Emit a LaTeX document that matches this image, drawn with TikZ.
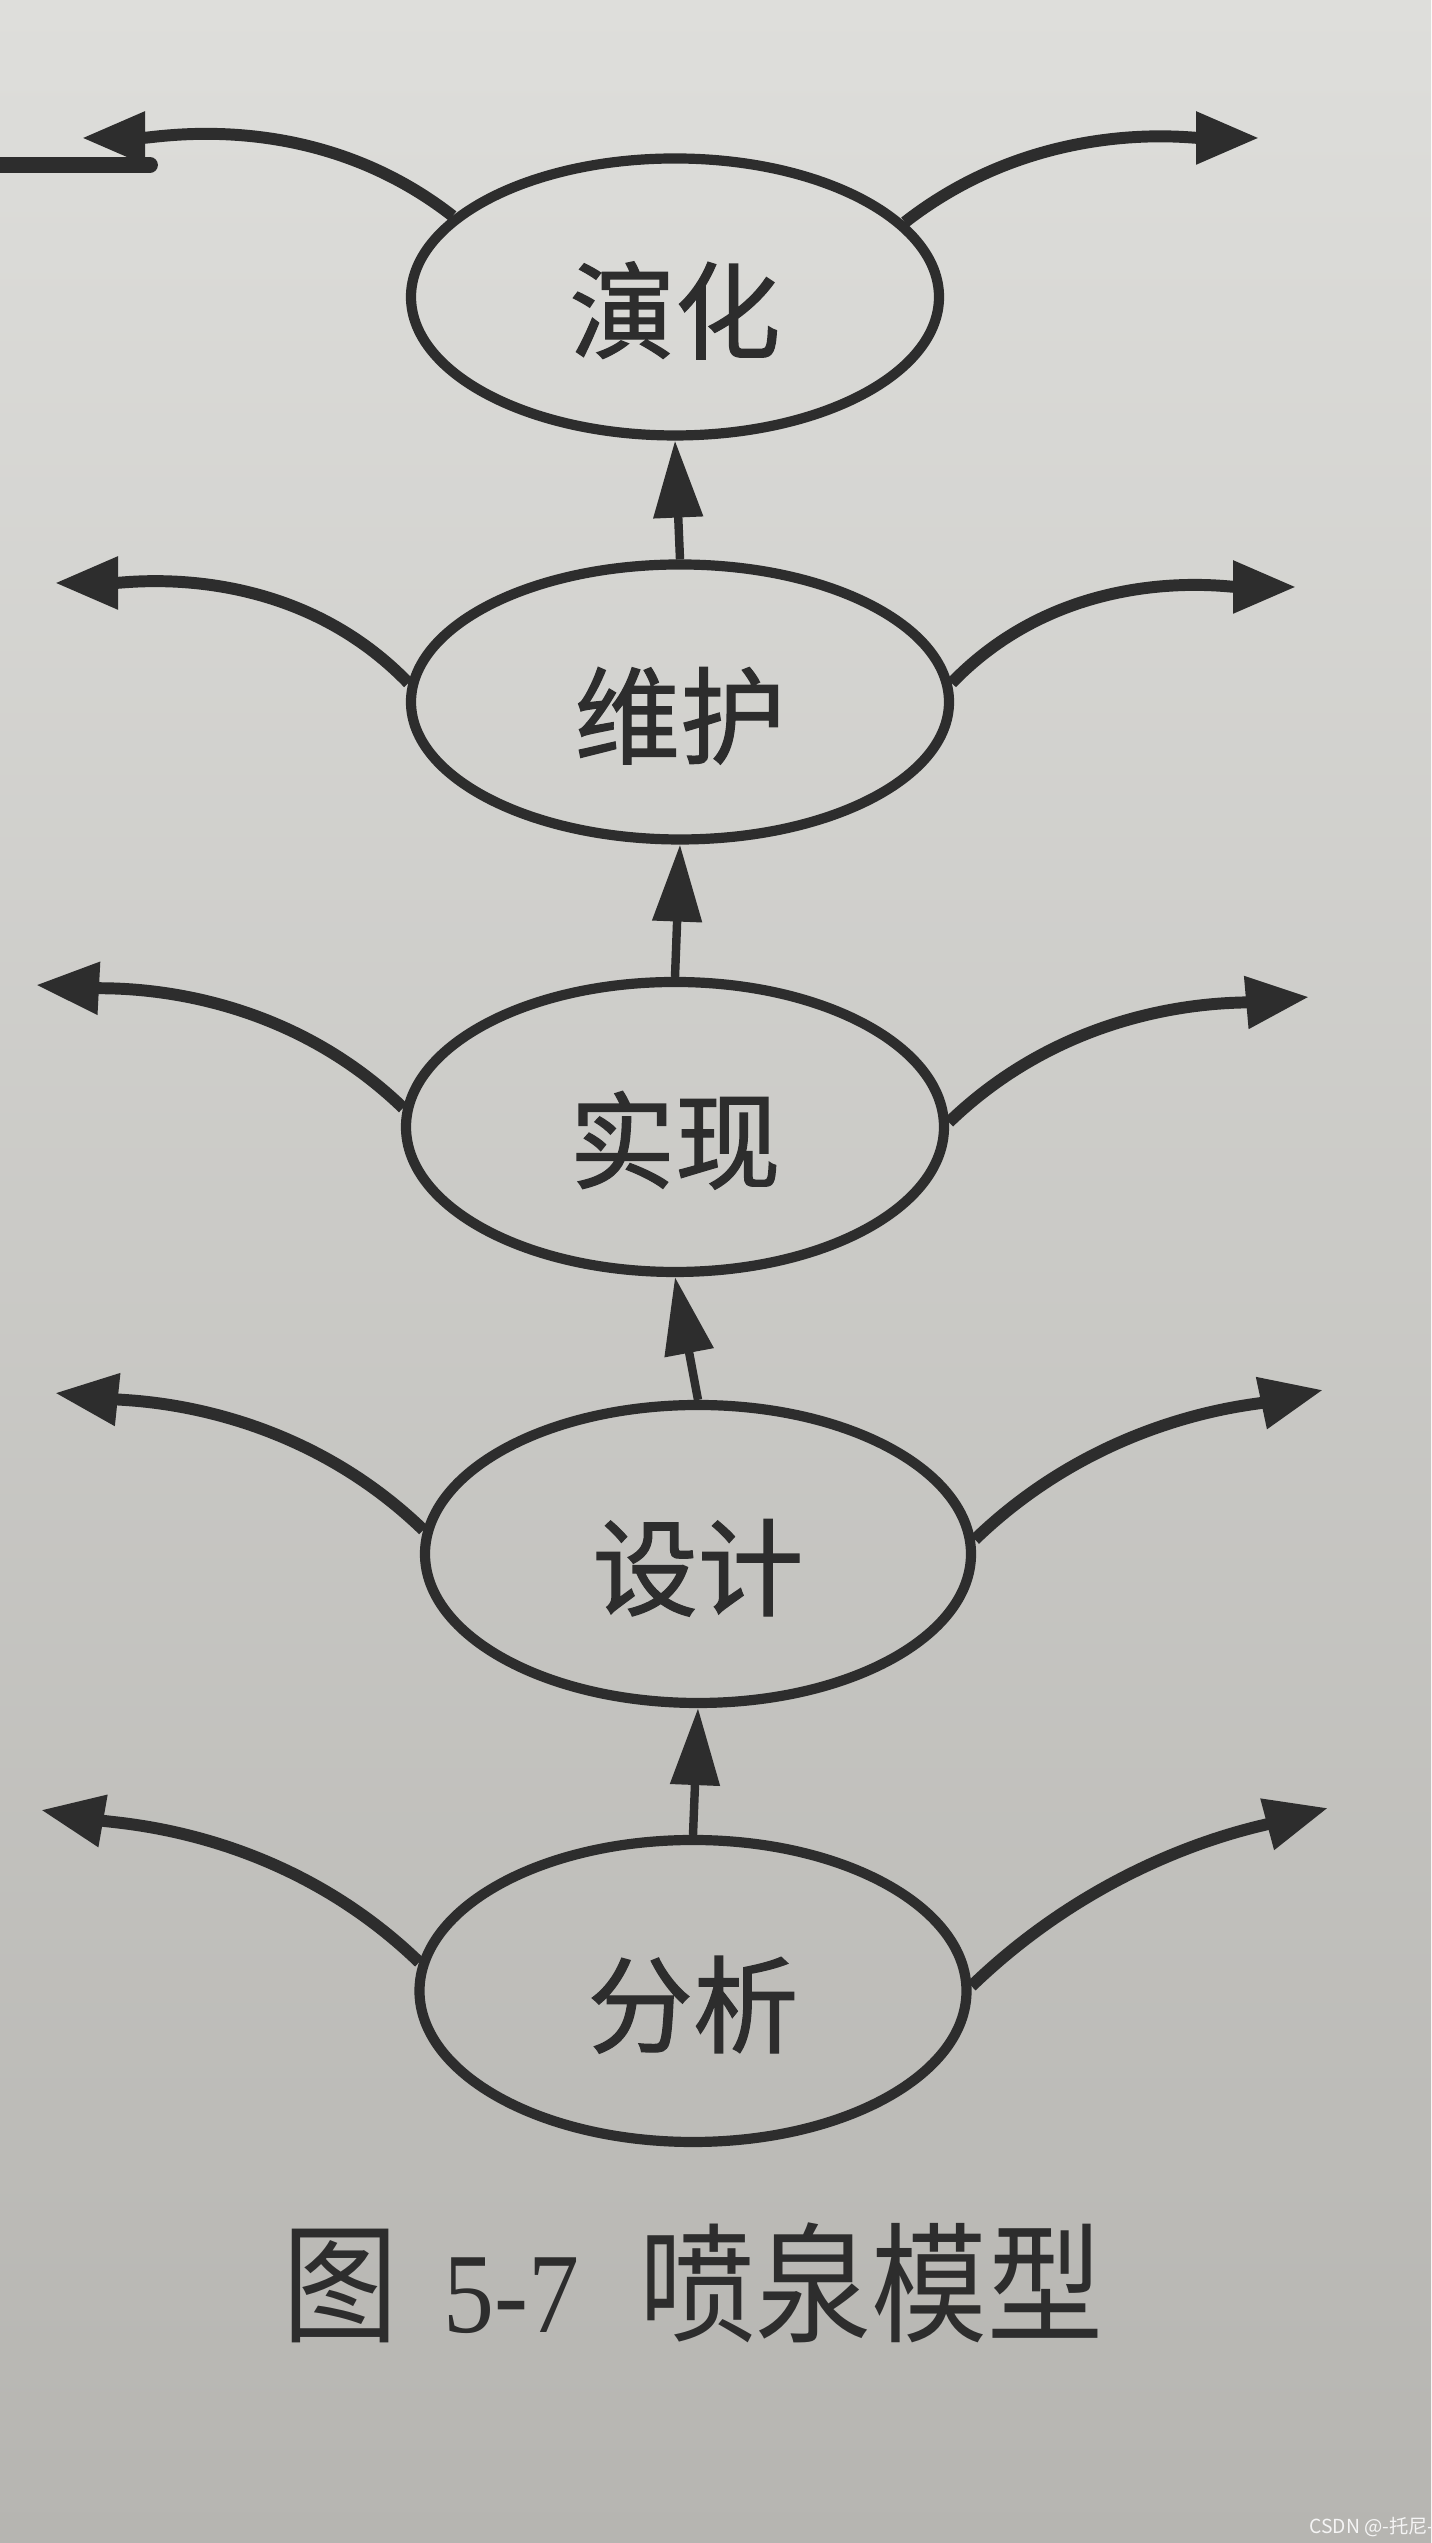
\documentclass[tikz,border=0pt]{standalone}
\usepackage{fontspec}
\setmainfont{Liberation Serif}
\newfontfamily\cjk{Noto Sans CJK SC}[FakeBold=1.2]
\newfontfamily\cjkcap{Noto Sans CJK SC}
\usetikzlibrary{arrows.meta,shapes.geometric}
\definecolor{papercol}{RGB}{222,222,219}
\definecolor{papershade}{RGB}{182,181,177}
\definecolor{inkcol}{RGB}{45,45,45}

\begin{document}
\begin{tikzpicture}[
    phase/.style={ellipse, draw=inkcol, line width=2.9pt, minimum width=5.38cm, minimum height=2.9cm, inner sep=0pt, text height=33pt, text=inkcol, font=\cjk\fontsize{30}{36}\selectfont},
    side/.style={draw=inkcol, line width=3.4pt, out looseness=1.2, in looseness=0.5, -{Triangle[length=6.3mm,width=5mm]}},
    flow/.style={draw=inkcol, line width=2.4pt, -{Triangle[length=7.7mm,width=4.8mm]}},
]
\useasboundingbox (0,0) rectangle (14.31,25.43);
\shade[top color=papercol, bottom color=papershade] (0,0) rectangle (14.31,25.43);

% the five phases
\node[phase, minimum width=5.28cm, minimum height=2.77cm] (evo) at (6.75,22.46) {演化};
\node[phase, minimum height=2.75cm] (mnt) at (6.80,18.41) {维护};
\node[phase] (imp) at (6.75,14.16) {实现};
\node[phase, minimum width=5.46cm, minimum height=2.98cm] (dsg) at (6.98,9.89) {设计};
\node[phase, minimum width=5.47cm, minimum height=3.02cm] (ana) at (6.93,5.52) {分析};

% free ends of the side arrows
\coordinate (evo-l) at (0.82,24.05);
\coordinate (evo-r) at (12.59,24.05);
\coordinate (mnt-l) at (0.55,19.60);
\coordinate (mnt-r) at (12.96,19.56);
\coordinate (imp-l) at (0.36,15.58);
\coordinate (imp-r) at (13.09,15.46);
\coordinate (dsg-l) at (0.55,11.50);
\coordinate (dsg-r) at (13.23,11.53);
\coordinate (ana-l) at (0.41,7.33);
\coordinate (ana-r) at (13.28,7.35);

\foreach \n/\a/\b/\lo/\ro/\li/\ri in {evo/160/18/142/38/0/180, mnt/176/4/134/46/0/180,
        imp/176/1/136/44/-3/185, dsg/175/3/136/44/-6/192, ana/174/1/136/44/-10/195} {
    \draw[side] (\n.\a) to[out=\lo, in=\li] (\n-l);
    \draw[side] (\n.\b) to[out=\ro, in=\ri] (\n-r);
}

\foreach \a/\b in {ana/dsg, dsg/imp, imp/mnt, mnt/evo}
    \draw[flow] (\a.north) -- (\b.south);

\draw[inkcol, line width=4.5pt, line cap=round] (0,23.78) -- (1.50,23.78);

\node[text=inkcol, font=\cjkcap\fontsize{33}{40}\selectfont, yscale=1.12] (cap) at (6.93,2.60)
    {图\hspace{0.45cm}{\rmfamily\fontsize{29}{36}\selectfont 5-7}\hspace{0.6cm}喷泉模型};
\node[text=white!92!gray, font=\cjkcap\fontsize{5.5}{7}\selectfont] (mark) at (13.72,0.16) {CSDN @-托尼-};
\end{tikzpicture}
\end{document}
